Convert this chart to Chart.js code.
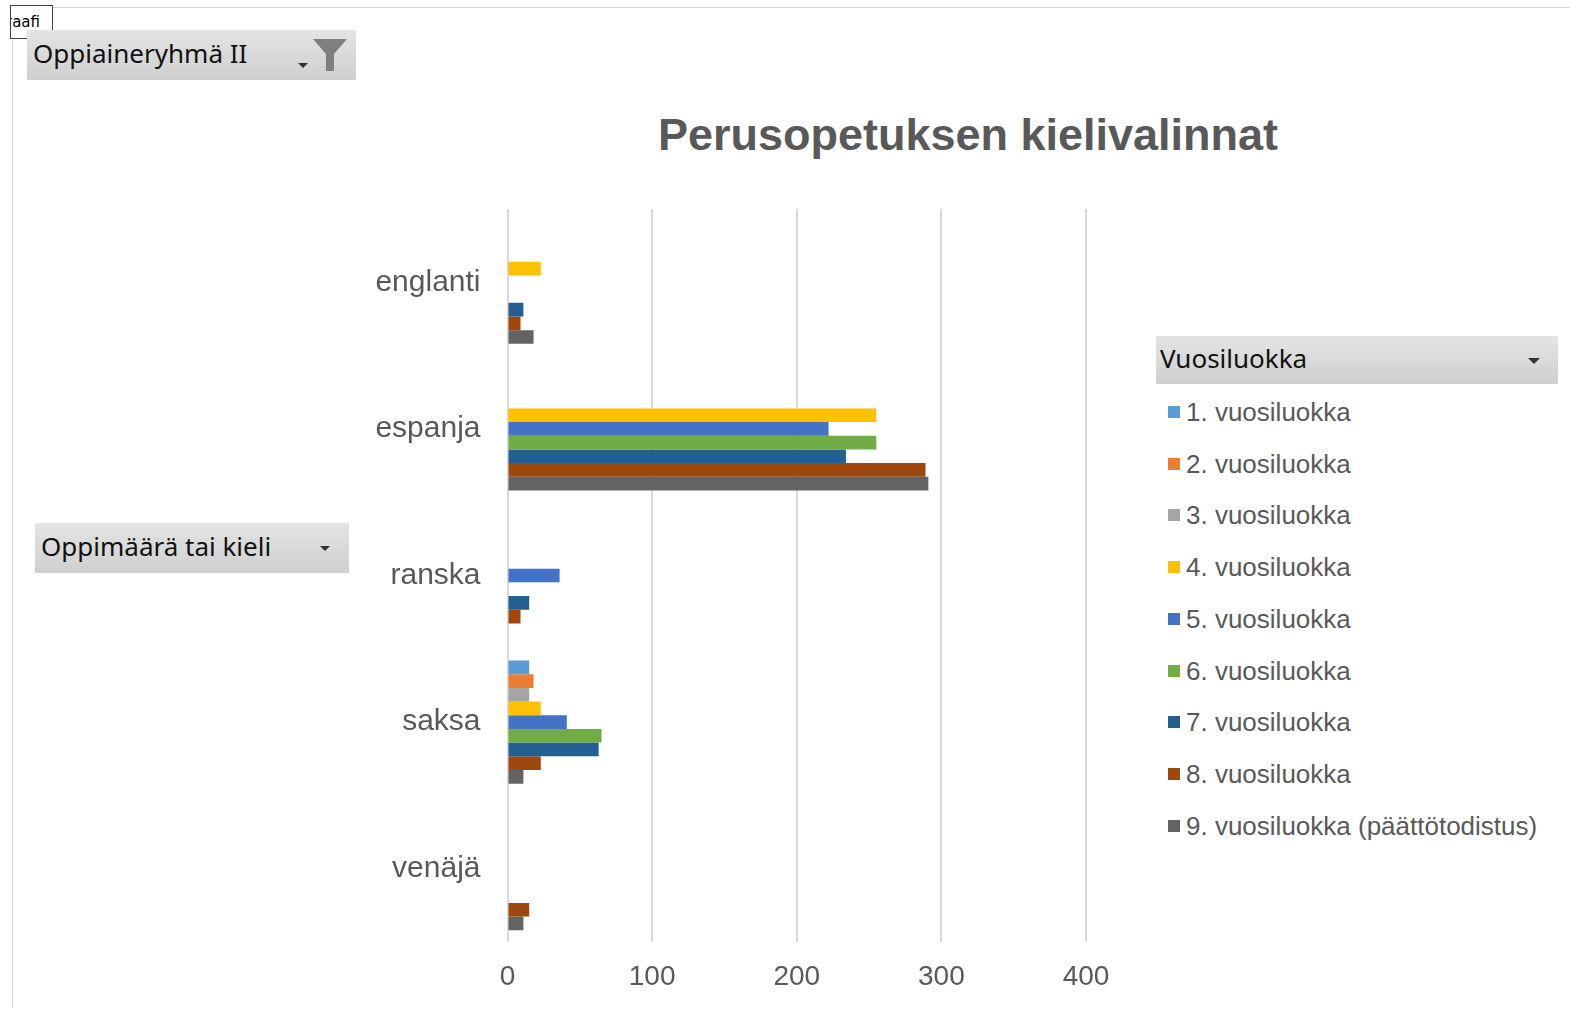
<!DOCTYPE html>
<html>
<head>
<meta charset="utf-8">
<script src="https://cdn.jsdelivr.net/npm/chart.js@4.4.1/dist/chart.umd.min.js"></script>
<style>
  html, body { margin: 0; padding: 0; background: #fff; }
  body { width: 1570px; height: 1011px; position: relative; overflow: hidden; font-family: "Liberation Sans", Arial, sans-serif; }
  #chartWrap { position: absolute; left: 0; top: 0; width: 1570px; height: 1011px; }
  .topLine { position: absolute; left: 52px; top: 7px; width: 1518px; height: 1px; background: #d9d9d9; }
  .leftLine { position: absolute; left: 12px; top: 38px; width: 1px; height: 970px; background: #d9d9d9; }
  .tab { position: absolute; left: 10px; top: 5px; width: 41px; height: 32px; border: 1px solid #404040; background: #fff; overflow: hidden; }
  .tab span { position: absolute; right: 12px; top: 7px; font-size: 15px; color: #000; white-space: nowrap; font-family: "DejaVu Sans", sans-serif; }
  .btn { position: absolute; background: linear-gradient(#e4e4e4, #cfcfcf); font-family: "Noto Sans", sans-serif; color: #111; font-size: 26px; }
  .btn .lbl { position: absolute; left: 6px; top: 5px; white-space: nowrap; }
  .arrow { position: absolute; width: 0; height: 0; border-left: 6px solid transparent; border-right: 6px solid transparent; border-top: 6px solid #333; }
  .funnel { position: absolute; }
  #title { position: absolute; left: 0; width: 1570px; top: 109px; text-align: center; padding-left: 366px; box-sizing: border-box; font-weight: bold; font-size: 45px; color: #595959; font-family: "Liberation Sans", Arial, sans-serif; }
  #legend { position: absolute; left: 1168px; top: 394px; }
  .item { position: absolute; left: 0; height: 36px; white-space: nowrap; font-size: 26px; color: #595959; }
  .item i { position: absolute; left: 0; top: 12px; width: 12px; height: 12px; }
  .item span { position: absolute; left: 18px; top: 3px; }
</style>
</head>
<body>
<div class="topLine"></div>
<div class="leftLine"></div>
<div class="tab"><span>Graafi</span></div>

<div class="btn" style="left:27px;top:30px;width:329px;height:50px;">
  <span class="lbl">Oppiaineryhmä II</span>
  <div class="arrow" style="left:271px;top:33px;border-left-width:5px;border-right-width:5px;border-top-width:5px;"></div>
  <svg class="funnel" style="left:285px;top:8px;" width="36" height="34" viewBox="0 0 36 34">
    <path d="M1 1 H35 L22 16 V33 H14 V16 Z" fill="#7f7f7f"/>
  </svg>
</div>

<div class="btn" style="left:35px;top:523px;width:314px;height:50px;">
  <span class="lbl">Oppimäärä tai kieli</span>
  <div class="arrow" style="left:285px;top:23px;border-left-width:5px;border-right-width:5px;border-top-width:5px;"></div>
</div>

<div class="btn" style="left:1156px;top:336px;width:402px;height:48px;">
  <span class="lbl" style="left:4px;top:4px;">Vuosiluokka</span>
  <div class="arrow" style="left:372px;top:22px;border-left-width:6px;border-right-width:6px;"></div>
</div>

<div id="title">Perusopetuksen kielivalinnat</div>
<div id="legend"></div>

<div id="chartWrap"><canvas id="chart" width="1570" height="1011"></canvas></div>

<script>
// kategoriat ja sarjat (luettu kuvasta)
const categories = ["englanti", "espanja", "ranska", "saksa", "venäjä"];
const seriesNames = [
  "1. vuosiluokka",
  "2. vuosiluokka",
  "3. vuosiluokka",
  "4. vuosiluokka",
  "5. vuosiluokka",
  "6. vuosiluokka",
  "7. vuosiluokka",
  "8. vuosiluokka",
  "9. vuosiluokka (päättötodistus)",
];
const luokka1 = [null, null, null, 15, null];
const luokka2 = [null, null, null, 18, null];
const luokka3 = [null, null, null, 15, null];
const luokka4 = [23, 255, null, 23, null];
const luokka5 = [null, 222, 36, 41, null];
const luokka6 = [null, 255, null, 65, null];
const luokka7 = [11, 234, 15, 63, null];
const luokka8 = [9, 289, 9, 23, 15];
const luokka9 = [18, 291, null, 11, 11];
const xTicks = [0, 100, 200, 300, 400];

const seriesValues = [luokka1, luokka2, luokka3, luokka4, luokka5, luokka6, luokka7, luokka8, luokka9];
const colors = ["#5b9bd5", "#ed7d31", "#a5a5a5", "#ffc000", "#4472c4", "#70ad47", "#255e91", "#9e480e", "#636363"];

function buildLegend() {
  const legend = document.getElementById("legend");
  seriesNames.forEach((name, i) => {
    const div = document.createElement("div");
    div.className = "item";
    div.style.top = (i * 51.7) + "px";
    const sw = document.createElement("i");
    sw.style.background = colors[i];
    const txt = document.createElement("span");
    txt.textContent = name;
    div.appendChild(sw);
    div.appendChild(txt);
    legend.appendChild(div);
  });
}

function buildChart() {
  const ctx = document.getElementById("chart");
  new Chart(ctx, {
    type: "bar",
    data: {
      labels: categories,
      datasets: seriesNames.map((name, i) => ({
        label: name,
        data: seriesValues[i],
        backgroundColor: colors[i],
        categoryPercentage: 0.84,
        barPercentage: 1,
      })),
    },
    options: {
      indexAxis: "y",
      responsive: false,
      animation: false,
      layout: { padding: { top: 209, right: 484, bottom: 0, left: 0 } },
      plugins: { legend: { display: false }, tooltip: { enabled: false } },
      scales: {
        x: {
          min: 0,
          max: 400,
          afterBuildTicks: (scale) => {
            scale.ticks = xTicks.map((v) => ({ value: v }));
          },
          afterFit: (scale) => {
            scale.height = 69;
          },
          grid: { color: "#d9d9d9", lineWidth: 2, drawTicks: false },
          border: { display: false },
          ticks: { color: "#595959", font: { size: 28, family: "Liberation Sans" }, padding: 18 },
        },
        y: {
          afterFit: (scale) => {
            scale.width = 507.5;
          },
          grid: { display: false, drawTicks: false },
          border: { display: false },
          ticks: { color: "#595959", font: { size: 30, family: "Liberation Sans" }, padding: 27 },
        },
      },
    },
  });
}

buildLegend();
buildChart();
</script>
</body>
</html>
